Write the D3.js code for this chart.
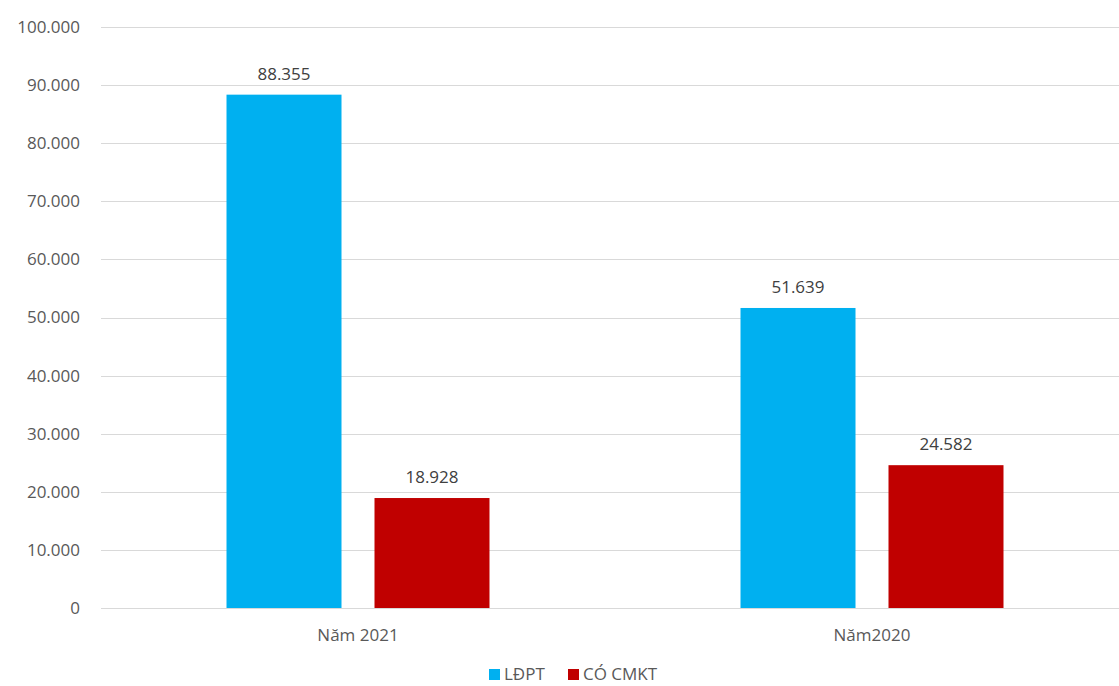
<!DOCTYPE html>
<html>
<head>
<meta charset="utf-8">
<script src="https://cdn.jsdelivr.net/npm/d3@7"></script>
<style>
  body { margin: 0; background: #fff; }
  text { font-family: "Open Sans", "Noto Sans", sans-serif; }
</style>
</head>
<body>
<div id="chart"></div>
<script>
const categories = ['Năm 2021', 'Năm2020'];
const seriesNames = ['LĐPT', 'CÓ CMKT'];
const ldptValues = [88355, 51639];
const cmktValues = [18928, 24582];
const yTicks = [0, 10000, 20000, 30000, 40000, 50000, 60000, 70000, 80000, 90000, 100000];

const colors = {
  'LĐPT': '#00b0f0',
  'CÓ CMKT': '#c00000'
};

const width = 1119;
const height = 686;
const fontSize = '17px';

const margin = { top: 27, right: -10, bottom: 78, left: 101 };

const fmt = d3.formatLocale({ decimal: ',', thousands: '.', grouping: [3], currency: ['', ''] }).format(',d');

const data = categories.map((c, i) => ({
  category: c,
  values: [
    { series: seriesNames[0], value: ldptValues[i] },
    { series: seriesNames[1], value: cmktValues[i] }
  ]
}));

const svg = d3.select('#chart').append('svg')
  .attr('width', width)
  .attr('height', height);

const plotW = width - margin.left - margin.right;
const plotH = height - margin.top - margin.bottom;

const x0 = d3.scaleBand()
  .domain(categories)
  .range([margin.left, margin.left + plotW]);

const x1 = d3.scaleBand()
  .domain(seriesNames)
  .range([0, x0.bandwidth()])
  .paddingInner(0.223)
  .paddingOuter(0.848);

const y = d3.scaleLinear()
  .domain([0, 100000])
  .range([margin.top + plotH, margin.top]);

// gridlines
svg.append('g')
  .selectAll('line')
  .data(yTicks).enter()
    .append('line')
      .attr('x1', margin.left)
      .attr('x2', width)
      .attr('y1', d => Math.round(y(d)) + 0.5)
      .attr('y2', d => Math.round(y(d)) + 0.5)
      .attr('stroke', '#d9d9d9')
      .attr('stroke-width', 1.2);

// y axis labels
const yAxis = svg.append('g')
  .attr('transform', 'translate(' + (margin.left - 21) + ',0)')
  .call(d3.axisLeft(y).tickValues(yTicks).tickSize(0).tickPadding(0).tickFormat(fmt));

yAxis.select('.domain').remove();
yAxis.selectAll('text')
  .attr('fill', '#595959')
  .style('font-size', fontSize)
  .style('font-family', '"Open Sans", "Noto Sans", sans-serif');

// x axis labels
const xAxis = svg.append('g')
  .attr('transform', 'translate(0,' + (margin.top + plotH) + ')')
  .call(d3.axisBottom(x0).tickSize(0).tickPadding(21));

xAxis.select('.domain').remove();
xAxis.selectAll('text')
  .attr('fill', '#595959')
  .style('font-size', fontSize)
  .style('font-family', '"Open Sans", "Noto Sans", sans-serif');

// bars
const groups = svg.selectAll('.group')
  .data(data).enter()
    .append('g')
      .attr('class', 'group')
      .attr('transform', d => 'translate(' + x0(d.category) + ',0)');

groups.selectAll('rect')
  .data(d => d.values).enter()
    .append('rect')
      .attr('x', d => x1(d.series))
      .attr('width', x1.bandwidth())
      .attr('y', d => y(d.value))
      .attr('height', d => y(0) - y(d.value))
      .attr('fill', d => colors[d.series]);

groups.selectAll('.val')
  .data(d => d.values).enter()
    .append('text')
      .attr('class', 'val')
      .attr('x', d => x1(d.series) + x1.bandwidth() / 2)
      .attr('y', d => y(d.value) - 15)
      .attr('text-anchor', 'middle')
      .attr('fill', '#404040')
      .style('font-size', fontSize)
      .text(d => fmt(d.value));

// legend
const legendY = 669;
const legendItems = [
  { name: seriesNames[0], x: 489 },
  { name: seriesNames[1], x: 568 }
];

legendItems.forEach(item => {
  svg.append('rect')
    .attr('x', item.x)
    .attr('y', legendY)
    .attr('width', 11)
    .attr('height', 11)
    .attr('fill', colors[item.name]);

  svg.append('text')
    .attr('x', item.x + 15)
    .attr('y', legendY + 11)
    .attr('fill', '#595959')
    .style('font-size', fontSize)
    .text(item.name);
});
</script>
</body>
</html>
